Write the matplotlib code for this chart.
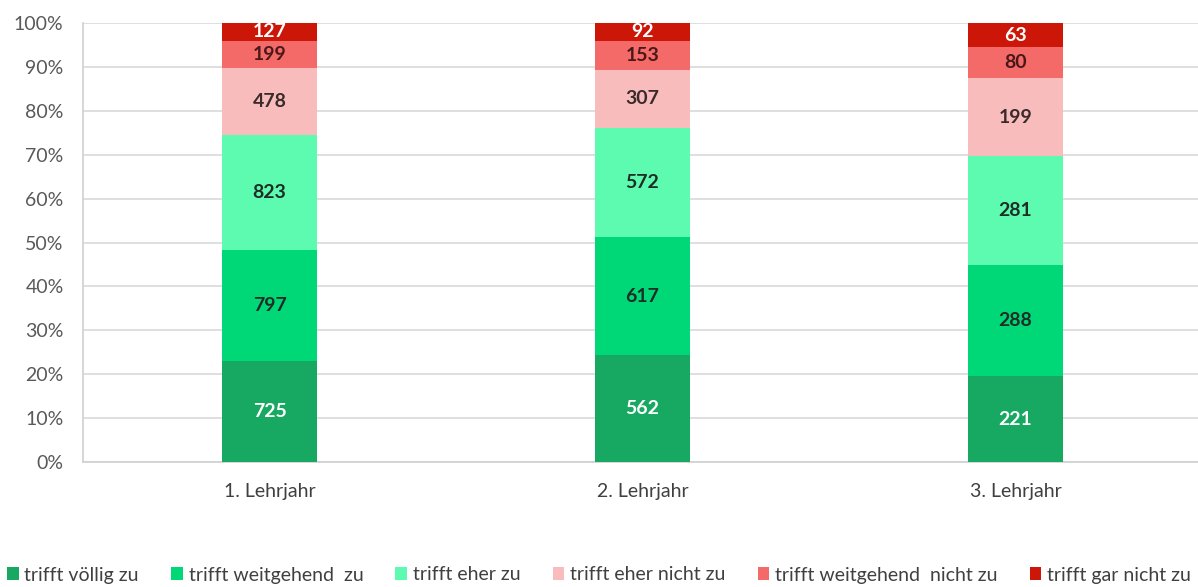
import matplotlib
matplotlib.use("Agg")
import matplotlib.pyplot as plt
import numpy as np

categories = ["1. Lehrjahr", "2. Lehrjahr", "3. Lehrjahr"]
series_names = ["trifft völlig zu", "trifft weitgehend  zu", "trifft eher zu",
                "trifft eher nicht zu", "trifft weitgehend  nicht zu", "trifft gar nicht zu"]
voellig = [725, 562, 221]
weitgehend = [797, 617, 288]
eher = [823, 572, 281]
eher_nicht = [478, 307, 199]
weitgehend_nicht = [199, 153, 80]
gar_nicht = [127, 92, 63]

colors = ["#17a862", "#00d877", "#5cfbb0", "#f9bcbc", "#f36a68", "#cc1708"]
label_colors = ["white", "#1f2d26", "#1f2d26", "#3a2a2a", "#4a1818", "white"]

plt.rcParams['font.family'] = ['Lato', 'DejaVu Sans']

data = np.array([voellig, weitgehend, eher, eher_nicht, weitgehend_nicht, gar_nicht], dtype=float)
totals = data.sum(axis=0)
pct = data / totals * 100

fig = plt.figure(figsize=(11.98, 5.87), dpi=100)
ax = fig.add_axes([83/1198, (587-462)/587, (1198-83)/1198, (462-23)/587])

x = np.arange(len(categories))
bottom = np.zeros(len(categories))
bars = []
for i, name in enumerate(series_names):
    b = ax.bar(x, pct[i], 0.257, bottom=bottom, color=colors[i], label=name, zorder=3)
    bars.append(b)
    for j in range(len(categories)):
        ax.text(x[j], bottom[j] + pct[i][j] / 2, f"{int(data[i][j])}", ha="center", va="center",
                fontsize=14, fontweight="bold", color=label_colors[i], zorder=4)
    bottom += pct[i]

ax.set_xlim(-0.5, -0.5 + (1198 - 83) / 373)
ax.set_ylim(0, 100)
ax.set_yticks(np.arange(0, 101, 10))
ax.set_yticklabels([f"{v}%" for v in range(0, 101, 10)], fontsize=14, color="#595959")
ax.set_xticks(x)
ax.set_xticklabels(categories, fontsize=14, color="#404040")
ax.yaxis.grid(True, color="#d9d9d9", linewidth=1.2, zorder=0)
ax.tick_params(axis="y", length=0, pad=14)
ax.tick_params(axis="x", length=0, pad=15)
for s in ["top", "right"]:
    ax.spines[s].set_visible(False)
ax.spines["left"].set_color("#d0d0d0")
ax.spines["bottom"].set_color("#d0d0d0")
ax.spines["left"].set_linewidth(1.2)
ax.spines["bottom"].set_linewidth(1.2)

handles = [b for b in bars]
fig.legend(handles, series_names, loc="center", bbox_to_anchor=(0.5, (587 - 575) / 587),
           ncol=6, frameon=False, fontsize=14, handlelength=0.6, handleheight=0.6,
           handletextpad=0.3, columnspacing=1.65, labelcolor="#404040", borderaxespad=0)

fig.savefig("out.png", dpi=100)
